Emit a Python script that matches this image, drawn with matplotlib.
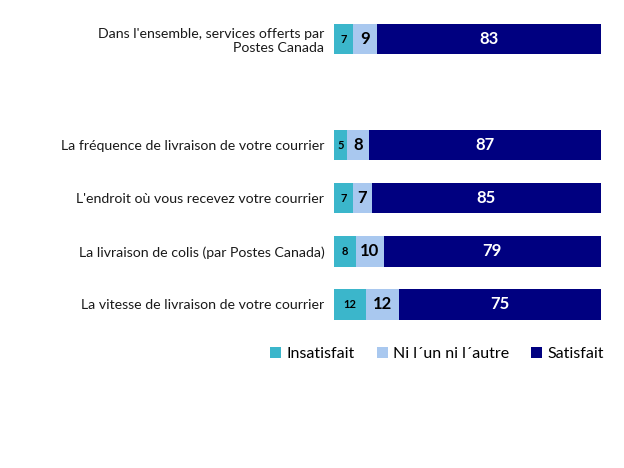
import matplotlib
matplotlib.use("Agg")
import matplotlib.pyplot as plt
import numpy as np
from matplotlib.patches import Patch

plt.rcParams['font.family'] = ['Lato', 'DejaVu Sans']

categories = [
    "Dans l'ensemble, services offerts par\nPostes Canada",
    "",
    "La fréquence de livraison de votre courrier",
    "L'endroit où vous recevez votre courrier",
    "La livraison de colis (par Postes Canada)",
    "La vitesse de livraison de votre courrier",
]
insatisfait = [7, None, 5, 7, 8, 12]
ni = [9, None, 8, 7, 10, 12]
satisfait = [83, None, 87, 85, 79, 75]
series_names = ["Insatisfait", "Ni l\u00b4un ni l\u00b4autre", "Satisfait"]
colors = ["#3BB6CB", "#A9C8EF", "#000080"]

fig = plt.figure(figsize=(6.24, 4.68), dpi=100)
ax = fig.add_axes([334/624, 1-331/468, 267/624, (331-12.5)/468])

for i, cat in enumerate(categories):
    if insatisfait[i] is None:
        continue
    vals = [insatisfait[i], ni[i], satisfait[i]]
    total = sum(vals)
    left = 0.0
    for j, v in enumerate(vals):
        w = v / total * 100
        ax.barh(i, w, left=left, height=0.57, color=colors[j], edgecolor='none')
        cx = left + w / 2
        if j == 0:
            ax.text(cx, i, str(v), ha='center', va='center', fontsize=8,
                    fontweight='bold', color='black')
        elif j == 1:
            ax.text(cx, i, str(v), ha='center', va='center', fontsize=12,
                    fontweight='bold', color='black')
        else:
            ax.text(cx, i, str(v), ha='center', va='center', fontsize=12,
                    fontweight='bold', color='white')
        left += w

ax.set_xlim(0, 100)
ax.set_ylim(5.5, -0.5)
ax.set_yticks(range(len(categories)))
ax.set_yticklabels(categories, fontsize=10.2, ha='right', color='#1a1a1a')
ax.tick_params(axis='y', length=0, pad=7)
ax.set_xticks([])
for s in ax.spines.values():
    s.set_visible(False)

handles = [Patch(facecolor=c, edgecolor='none') for c in colors]
fig.legend(handles, series_names, loc='center', bbox_to_anchor=(0.70, 0.244),
           ncol=3, frameon=False, fontsize=11.5, handlelength=0.7,
           handleheight=0.7, handletextpad=0.3, columnspacing=1.4)

fig.savefig("out.png", dpi=100)
